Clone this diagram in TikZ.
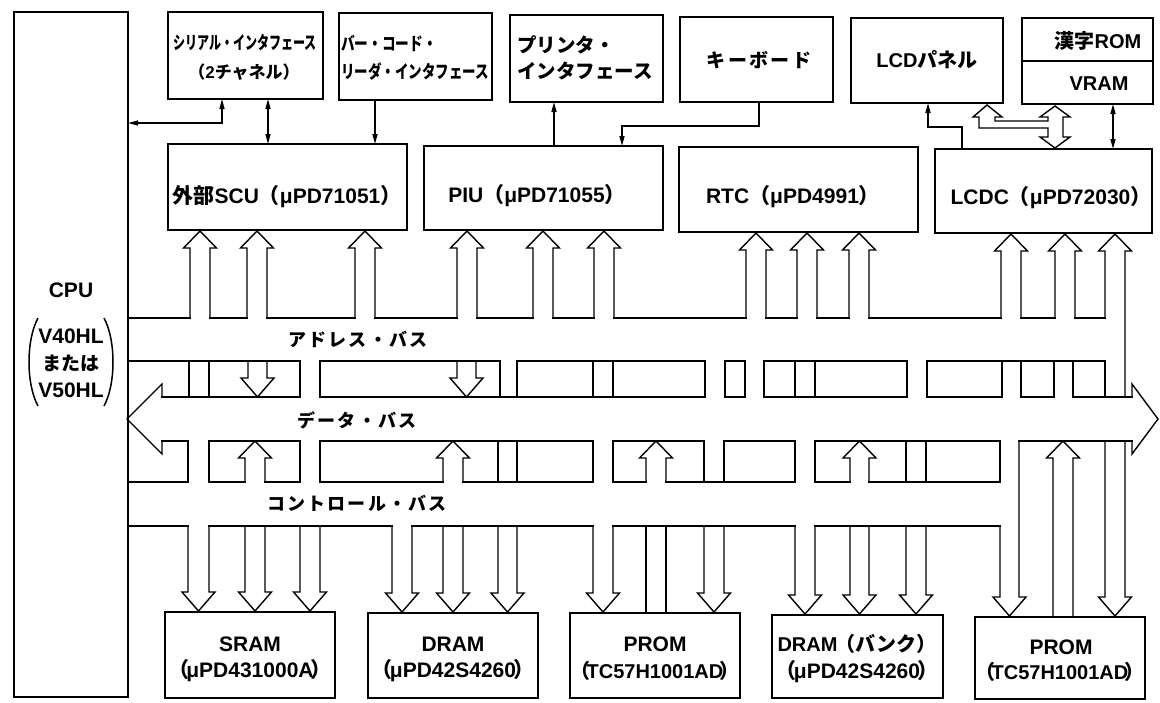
\documentclass[tikz,border=0pt]{standalone}
\usepackage{fontspec}
\usepackage{graphicx}
\setmainfont{Liberation Sans}
\newfontfamily\jp{Noto Sans CJK JP}
\newfontfamily\jpsp{Noto Sans CJK JP}[LetterSpace=12]
\usetikzlibrary{arrows.meta}
\newcommand\jpt[1]{{\jp #1}}
\newcommand\fsz[1]{\fontsize{#1}{#1}\selectfont}
\newcommand\lt{\fsz{21}\bfseries}
% hollow arrows: xl, xr, shaft end left, shaft end right, tip y
\newcommand\uparr[5]{\draw[bus] (#1,#3) -- (#1,{#5+17}) -- ({(#1+#2)/2-16.5},{#5+17}) -- ({(#1+#2)/2},#5) -- ({(#1+#2)/2+16.5},{#5+17}) -- (#2,{#5+17}) -- (#2,#4);}
\newcommand\dnarr[5]{\draw[bus] (#1,#3) -- (#1,{#5-19}) -- ({(#1+#2)/2-16.5},{#5-19}) -- ({(#1+#2)/2},#5) -- ({(#1+#2)/2+16.5},{#5-19}) -- (#2,{#5-19}) -- (#2,#4);}
\newcommand\mkbox[5]{\node[box, minimum width={#4-#2}, minimum height={#5-#3}] (#1) at ({(#2+#4)/2},{(#3+#5)/2}) {};}
\begin{document}
\begin{tikzpicture}[x=1pt,y=-1pt,
  box/.style={draw, line width=2.6pt, rectangle, inner sep=0pt, outer sep=0pt},
  bus/.style={line width=1.4pt, line join=miter, line cap=rect},
  conn/.style={line width=1.5pt},
  onetip/.style={-{Triangle[length=10pt,width=5pt]}},
  twotip/.style={{Triangle[length=10pt,width=5pt]}-{Triangle[length=10pt,width=5pt]}},
  lab/.style={inner sep=0pt, outer sep=0pt, anchor=center, font=\bfseries},
  labw/.style={inner sep=0pt, outer sep=0pt, anchor=west, font=\bfseries}]
\fill[white] (0,0) rectangle (1160,702);
\useasboundingbox (0,0) rectangle (1160,702);

% ---------------- boxes ----------------
\mkbox{cpu}{14}{12}{128}{697}
\mkbox{serial}{168}{12}{323}{99}
\mkbox{barcode}{339}{13}{492}{100}
\mkbox{printer}{510}{15}{663}{102}
\mkbox{keyboard}{680}{17}{833}{102}
\mkbox{lcdpanel}{851}{18}{1003}{103}
\mkbox{kanji}{1022}{18}{1153}{104}
\mkbox{scu}{168}{144}{407}{230}
\mkbox{piu}{424}{146}{663}{230}
\mkbox{rtc}{679}{147}{918}{232}
\mkbox{lcdc}{935}{149}{1152}{233}
\mkbox{sram}{165}{612}{335}{698}
\mkbox{dram}{368}{613}{538}{698}
\mkbox{prom}{570}{613}{740}{698}
\mkbox{dramb}{772}{615}{943}{698}
\mkbox{promb}{975}{617}{1145}{699}
\coordinate (kd) at (0,61);
\draw[line width=1.4pt] (kanji.west |- kd) -- (kanji.east |- kd);

% ---------------- labels ----------------
\node[lab] (tcpu) at (71,290) {\lt CPU};
\node[lab] (tv40) at (71,336) {\lt V40HL};
\node[lab] (tmata) at (71,363) {\fsz{19}\jpt{または}};
\node[lab] (tv50) at (71,390) {\lt V50HL};
\draw[line width=1.5pt] (38,318) .. controls (26,340) and (26,384) .. (38,406);
\draw[line width=1.5pt] (104,318) .. controls (116,340) and (116,384) .. (104,406);

\node[lab] (tser1) at (245,43) {\scalebox{0.67}[1]{\fsz{18}\jpt{シリアル・インタフェース}}};
\node[lab] (tser2) at (244,72) {\fsz{17}\jpt{（}2\jpt{チャネル）}};
\node[labw] (tbar1) at (341,43) {\scalebox{0.76}[1]{\fsz{18}\jpt{バー・コード・}}};
\node[labw] (tbar2) at (341,72) {\scalebox{0.75}[1]{\fsz{18}\jpt{リーダ・インタフェース}}};
\node[labw] (tpr1) at (517,45) {\fsz{19.5}\jpt{プリンタ・}};
\node[labw] (tpr2) at (517,71) {\fsz{19.5}\jpt{インタフェース}};
\node[lab] (tkey) at (759,60) {\fsz{19}\jpsp キーボード};
\node[lab] (tlcdp) at (927,60) {\fsz{20}LCD\jpt{パネル}};
\node[lab] (tkanji) at (1098,41) {\fsz{20}\jpt{漢字}ROM};
\node[lab] (tvram) at (1099,84) {\fsz{20}VRAM};

\node[lab] (tscu) at (287,197) {\lt\jpt{外部}SCU\jpt{（}μPD71051\jpt{）}};
\node[lab] (tpiu) at (537,196) {\lt PIU\jpt{（}μPD71055\jpt{）}};
\node[lab] (trtc) at (793,197) {\lt RTC\jpt{（}μPD4991\jpt{）}};
\node[lab] (tlcdc) at (1051,198) {\lt LCDC\jpt{（}μPD72030\jpt{）}};

\node[lab] (tsram1) at (250,644) {\lt SRAM};
\node[lab] (tsram2) at (250,671) {\lt\jpt{（}\kern-3pt μPD431000A\kern-3pt\jpt{）}};
\node[lab] (tdram1) at (453,644) {\lt DRAM};
\node[lab] (tdram2) at (453,671) {\lt\jpt{（}\kern-3pt μPD42S4260\kern-3pt\jpt{）}};
\node[lab] (tprom1) at (655,644) {\lt PROM};
\node[lab] (tprom2) at (655,671) {\fsz{20}\jpt{（}\kern-4pt TC57H1001AD\kern-4pt\jpt{）}};
\node[lab] (tdb1) at (857,644) {\fsz{20}DRAM\kern-2pt\jpt{（バンク）}};
\node[lab] (tdb2) at (857,672) {\lt\jpt{（}\kern-3pt μPD42S4260\kern-3pt\jpt{）}};
\node[lab] (tpb1) at (1061,647) {\lt PROM};
\node[lab] (tpb2) at (1060,672) {\fsz{20}\jpt{（}\kern-4pt TC57H1001AD\kern-4pt\jpt{）}};

\node[lab] (tabus) at (358,339) {\fsz{18}\jpsp アドレス・バス};
\node[lab] (tdbus) at (357,420) {\fsz{18}\jpsp データ・バス};
\node[lab] (tcbus) at (357,503) {\fsz{18}\jpsp コントロール・バス};

% ---------------- thin connectors ----------------
\coordinate (k1) at (222,123);
\coordinate (k2) at (268,0);
\coordinate (k3) at (375,0);
\coordinate (k4) at (554,0);
\coordinate (k5) at (759,126);
\coordinate (k6) at (622,0);
\coordinate (k7) at (962,127);
\coordinate (k8) at (928,0);
\coordinate (k9) at (1113,0);
\draw[conn,twotip] (serial.south -| k1) -- (k1) -- (cpu.east |- k1);
\draw[conn,twotip] (serial.south -| k2) -- (scu.north -| k2);
\draw[conn,onetip] (barcode.south -| k3) -- (scu.north -| k3);
\draw[conn,onetip] (piu.north -| k4) -- (printer.south -| k4);
\draw[conn,onetip] (keyboard.south -| k5) -- (k5) -- (k5 -| k6) -- (piu.north -| k6);
\draw[conn,onetip] (lcdc.north -| k7) -- (k7) -- (k7 -| k8) -- (lcdpanel.south -| k8);
\draw[conn,twotip] (kanji.south -| k9) -- (lcdc.north -| k9);

% hollow arrows between VRAM, LCDC and LCD panel
\draw[bus,line cap=butt] (987,105) -- (1002,117) -- (995,117) -- (995,121) -- (1048,121) -- (1048,117) -- (1040,117) -- (1055,106) -- (1070,117) -- (1063,117) -- (1063,137) -- (1070,137) -- (1055,148) -- (1040,137) -- (1048,137) -- (1048,128) -- (979,128) -- (979,117) -- (973,117) -- cycle;

% ---------------- peripheral arrows (R1) ----------------
\uparr{190}{210}{318}{318}{231}
\uparr{247}{267}{318}{318}{231}
\uparr{355}{375}{318}{318}{231}
\uparr{457}{477}{318}{318}{231}
\uparr{533}{553}{318}{318}{231}
\uparr{594}{614}{318}{318}{231}
\uparr{746}{766}{318}{318}{233}
\uparr{797}{817}{318}{318}{233}
\uparr{849}{869}{318}{318}{233}
\uparr{1001}{1021}{318}{318}{234}
\uparr{1055}{1075}{318}{318}{234}
\uparr{1105}{1125}{318}{397}{234}

% ---------------- address bus ----------------
\foreach \a/\b in {128/190,210/247,267/355,375/457,477/533,553/594,614/746,766/797,817/849,869/1001,1021/1055,1075/1105}
  \draw[bus] (\a,318) -- (\b,318);
\foreach \a/\b in {128/300,320/500,517/705,725/745,764/907,927/1105}
  \draw[bus] (\a,361) -- (\b,361);
\foreach \x in {189,209,300,320,500,517,593,613,705,725,745,764,795,815,907,927,1002,1021,1054,1073,1105}
  \draw[bus] (\x,361) -- (\x,397);
\dnarr{248}{267}{361}{361}{397}
\dnarr{457}{476}{361}{361}{397}

% ---------------- data bus ----------------
\foreach \a/\b in {162/300,320/705,725/745,764/907,927/1002,1021/1054,1073/1132}
  \draw[bus] (\a,397) -- (\b,397);
\foreach \a/\b in {162/188,209/300,320/593,613/704,724/795,815/1000,1019/1132}
  \draw[bus] (\a,441) -- (\b,441);
\draw[bus] (162,397) -- (162,384) -- (127,419) -- (162,454) -- (162,441);
\draw[bus] (1132,397) -- (1132,384) -- (1158,419) -- (1132,454) -- (1132,441);
\foreach \x in {188,209,300,320,498,517,593,613,704,724,795,815,906,926,1000}
  \draw[bus] (\x,441) -- (\x,482);
\uparr{245}{265}{482}{482}{441}
\uparr{443}{463}{482}{482}{441}
\uparr{646}{666}{482}{482}{441}
\uparr{850}{869}{482}{482}{441}
\uparr{1053}{1073}{616}{616}{441}

% ---------------- control bus ----------------
\foreach \a/\b in {128/188,209/245,265/300,320/443,463/593,613/646,666/795,815/850,869/1000}
  \draw[bus] (\a,482) -- (\b,482);
\foreach \a/\b in {128/188,209/392,412/593,613/795,815/1000}
  \draw[bus] (\a,526) -- (\b,526);

% ---------------- memory arrows ----------------
\dnarr{188}{209}{526}{526}{611}
\dnarr{245}{265}{526}{526}{611}
\dnarr{300}{320}{526}{526}{611}
\dnarr{392}{412}{526}{526}{612}
\dnarr{443}{463}{526}{526}{612}
\dnarr{498}{517}{526}{526}{612}
\dnarr{593}{613}{526}{526}{612}
\dnarr{704}{724}{526}{526}{612}
\draw[bus] (646,526) -- (646,612);
\draw[bus] (666,526) -- (666,612);
\dnarr{795}{815}{526}{526}{614}
\dnarr{850}{869}{526}{526}{614}
\dnarr{906}{926}{526}{526}{614}
\dnarr{1000}{1019}{526}{441}{616}
\dnarr{1105}{1125}{441}{441}{616}
\end{tikzpicture}
\end{document}
